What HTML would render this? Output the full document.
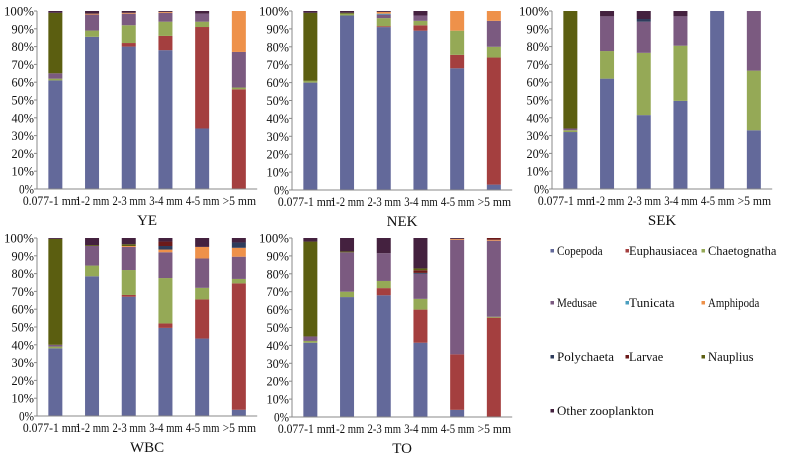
<!DOCTYPE html>
<html><head><meta charset="utf-8"><style>
html,body{margin:0;padding:0;background:#fff;width:787px;height:465px;overflow:hidden}
svg{display:block}
svg text{font-family:"Liberation Serif","Times New Roman",serif}
</style></head><body>
<svg id="c" width="787" height="465"></svg>
<script>
const categories=["0.077-1 mm","1-2 mm","2-3 mm","3-4 mm","4-5 mm",">5 mm"];
const seriesNames=["Copepoda","Euphausiacea","Chaetognatha","Medusae","Tunicata","Amphipoda","Polychaeta","Larvae","Nauplius","Other zooplankton"];
const colors=["#63699a","#a43f3f","#95a956","#7b5a80","#4b9fbf","#ee914a","#2e3c5c","#6b1a1a","#5b5e10","#44213f"];
const tickLabels=["0%","10%","20%","30%","40%","50%","60%","70%","80%","90%","100%"];
const panelNames=["YE","NEK","SEK","WBC","TO"];
// each row: one category; columns follow seriesNames
const dataYE=[[61,0,1,3,0,0,0,0,34,1],[85.5,0,3.5,9,0,0.5,0,0,0,1.5],[80,2,10,6.5,0,0.5,0,0,0,1],[78,8,8,5,0,0.5,0,0,0,0.5],[34,57,3,4.5,0,0,0,0,0,1.5],[0,56,1,20,0,23,0,0,0,0]];
const dataNEK=[[60,0,1,0,0,0,0,0,38,1],[97.5,0,1,0,0,0,0,0,0.5,1],[91,0.5,4.5,2,0.5,1,0,0,0,0.5],[89,3,2.5,3,0,0,0,0,0,2.5],[68,7.5,13.5,0,0,11,0,0,0,0],[3,71,6,14.5,0,5.5,0,0,0,0]];
const dataSEK=[[32,0,1,1,0,0,0,0,66,0],[62,0,15.5,19.5,0,0,0,0,0,3],[41.5,0,35,17.5,0,0,1.5,0,0,4.5],[49.5,0,31,16.5,0,0,0,0,0,3],[100,0,0,0,0,0,0,0,0,0],[33,0,33.5,33.5,0,0,0,0,0,0]];
const dataWBC=[[38,0,1,1,0,0,0,0,59.5,0.5],[78.5,0,6,11,0,0,0,0,0.5,4],[67,1,14,13,0,0.5,0,0,1,3.5],[49.5,2.5,25.5,14.5,0,1.5,2,2.5,0,2],[43.5,22,6.5,16.5,0,6.5,0,0,0,5],[3.5,71,2.5,12.5,0,5,3,0,0,2.5]];
const dataTO=[[41.5,0,1,2.5,0,0,0,0,53,2],[67,0,3,22,0,0,0,0,0.5,7.5],[68,4,4,15.5,0,0,0,0,0,8.5],[41.5,18.5,6,14,0,0,0.5,1.5,1,17],[4,31,0,64,0,0.5,0,0,0,0.5],[0,55.5,0.5,42.5,0,0.5,0,1,0,0]];
const panelData=[dataYE,dataNEK,dataSEK,dataWBC,dataTO];
const layout=[{x0:37,top:11,bot:189},{x0:292,top:11,bot:190},{x0:552,top:11,bot:189},{x0:37,top:238,bot:416},{x0:292,top:238,bot:417}];
const NS="http://www.w3.org/2000/svg";
const svg=document.getElementById('c');
function mk(t,a,p){const e=document.createElementNS(NS,t);for(const k in a)e.setAttribute(k,a[k]);(p||svg).appendChild(e);return e;}
const step=36.7,barW=14;
panelData.forEach((data,pi)=>{
  const L=layout[pi];
  const g=mk('g',{});
  
  
  const yS=v=>L.bot-(L.bot-L.top)*v/100;
  const xS=i=>L.x0+step*(i+0.5);
  data.forEach((row,ci)=>{
    const tot=row.reduce((a,b)=>a+b,0);let acc=0;
    row.forEach((v,si)=>{
      if(v<=0)return;
      const p=v/tot*100;
      const r=mk('rect',{x:xS(ci)-barW/2,y:yS(acc+p),width:barW,height:yS(acc)-yS(acc+p),fill:colors[si]},g);
      
      
      acc+=p;
    });
    const cx=ci===0?xS(ci)-4:xS(ci)+0.5;
    const t=mk('text',{x:cx,y:L.bot+16,'text-anchor':'middle','font-size':'12.5',fill:'#111',textLength:ci===0?57:33.5,lengthAdjust:'spacingAndGlyphs'},g);
    t.textContent=categories[ci];
    
    
  });
  const ax=mk('path',{d:`M${L.x0},${L.top}V${L.bot}H${L.x0+step*6}`,stroke:'#888',fill:'none','stroke-width':1},g);
  
  
  tickLabels.forEach((lb,i)=>{
    const y=yS(i*10);
    mk('line',{x1:L.x0-3,x2:L.x0,y1:y,y2:y,stroke:'#888'},g);
    const t=mk('text',{x:L.x0-3,y:y+4.5,'text-anchor':'end','font-size':'12.5',fill:'#111',textLength:lb.length*7.5,lengthAdjust:'spacingAndGlyphs'},g);
    t.textContent=lb;
    
    
  });
  const ti=mk('text',{x:L.x0+step*3,y:L.bot+36,'text-anchor':'middle','font-size':'15',fill:'#111'},g);
  ti.textContent=panelNames[pi];
  
  
});
const legX=[552,627,703],legY=[251,303,357,411];
seriesNames.forEach((n,i)=>{
  const x=legX[i%3],y=legY[Math.floor(i/3)];
  const g=mk('g',{});
  
  
  mk('rect',{x:x-1.5,y:y-2,width:3.5,height:3.5,fill:colors[i]},g);
  const t=mk('text',{x:x+(i%3==1?2:5),y:y+4,'font-size':'12.5',fill:'#111',textLength:n.length*5.7,lengthAdjust:'spacingAndGlyphs'},g);
  t.textContent=n;
});
</script>
</body></html>
